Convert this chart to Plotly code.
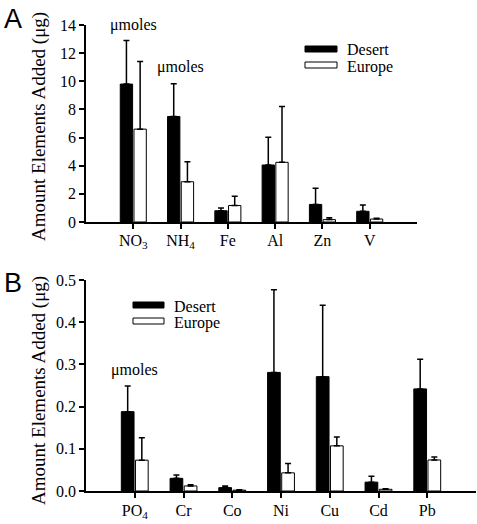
import plotly.graph_objects as go

# Panel A data
cats_a = ["NO<sub>3</sub>", "NH<sub>4</sub>", "Fe", "Al", "Zn", "V"]
desert_a = [9.8, 7.5, 0.8, 4.05, 1.25, 0.76]
desert_a_err = [3.1, 2.33, 0.2, 1.97, 1.15, 0.45]
europe_a = [6.6, 2.86, 1.17, 4.24, 0.17, 0.21]
europe_a_err = [4.8, 1.43, 0.66, 3.97, 0.14, 0.05]

# Panel B data
cats_b = ["PO<sub>4</sub>", "Cr", "Co", "Ni", "Cu", "Cd", "Pb"]
desert_b = [0.188, 0.030, 0.008, 0.281, 0.271, 0.021, 0.242]
desert_b_err = [0.061, 0.008, 0.004, 0.196, 0.169, 0.014, 0.070]
europe_b = [0.073, 0.012, 0.002, 0.043, 0.107, 0.004, 0.0735]
europe_b_err = [0.053, 0.003, 0.001, 0.022, 0.021, 0.0015, 0.007]

yticks_a = [0, 2, 4, 6, 8, 10, 12, 14]
yticks_b = [0.0, 0.1, 0.2, 0.3, 0.4, 0.5]

SERIF = "Liberation Serif, Times New Roman, serif"
SANS = "Liberation Sans, Arial, sans-serif"

W, H = 477, 524
ML, MR, MT = 86, 1, 25
PLOT_BOTTOM = 491
MB = H - PLOT_BOTTOM
PW = W - ML - MR
PH = H - MT - MB


def px_x(p):
    return (p - ML) / PW


def px_y(p):
    return (H - MB - p) / PH


fig = go.Figure()


def add_panel(cats, d, de, e, ee, xa, ya):
    fig.add_trace(go.Bar(
        x=cats, y=d, name="Desert", xaxis=xa, yaxis=ya,
        marker=dict(color="black", line=dict(color="black", width=1)),
        error_y=dict(type="data", symmetric=False, array=de,
                     arrayminus=[0] * len(de), color="black",
                     thickness=1.5, width=3),
        showlegend=False,
    ))
    fig.add_trace(go.Bar(
        x=cats, y=e, name="Europe", xaxis=xa, yaxis=ya,
        marker=dict(color="white", line=dict(color="black", width=1)),
        error_y=dict(type="data", symmetric=False, array=ee,
                     arrayminus=[0] * len(ee), color="black",
                     thickness=1.5, width=3),
        showlegend=False,
    ))


add_panel(cats_a, desert_a, desert_a_err, europe_a, europe_a_err, "x", "y")
add_panel(cats_b, desert_b, desert_b_err, europe_b, europe_b_err, "x2", "y2")

axis_common = dict(showline=True, linecolor="black", linewidth=1.5,
                   ticks="outside", tickcolor="black", ticklen=5, tickwidth=1.5,
                   showgrid=False, zeroline=False, automargin=False,
                   tickfont=dict(family=SERIF, size=16, color="black"))

yA_top, yA_bot = 25, 222
yB_top, yB_bot = 280, 491

fig.update_layout(
    template="none",
    width=W, height=H,
    margin=dict(l=ML, r=MR, t=MT, b=MB, pad=0),
    paper_bgcolor="white", plot_bgcolor="white",
    barmode="group", bargap=0.42, bargroupgap=0.1,
    showlegend=False,
    xaxis=dict(domain=[0, px_x(417)], anchor="y", range=[-1, 6],
               type="category", ticklabelstandoff=-2, **axis_common),
    yaxis=dict(domain=[px_y(yA_bot), px_y(yA_top)], anchor="x",
               range=[0, 14], tickvals=yticks_a, **axis_common),
    xaxis2=dict(domain=[0, 1], anchor="y2", range=[-1, 7],
                type="category", ticklabelstandoff=-1, **axis_common),
    yaxis2=dict(domain=[px_y(yB_bot), px_y(yB_top)], anchor="x2",
                range=[0, 0.5], tickvals=yticks_b, tickformat=".1f",
                **axis_common),
    font=dict(family=SERIF, color="black"),
)

ann = []
# y titles
for cy in [127, 391]:
    ann.append(dict(text="Amount Elements Added (μg)", xref="paper", yref="paper",
                    x=px_x(39), y=px_y(cy), textangle=-90,
                    showarrow=False, xanchor="center", yanchor="middle",
                    font=dict(family=SERIF, size=19, color="black")))
# panel letters
ann.append(dict(text="A", xref="paper", yref="paper", x=px_x(2), y=px_y(2),
                xanchor="left", yanchor="top", showarrow=False,
                font=dict(family=SANS, size=27, color="black")))
ann.append(dict(text="B", xref="paper", yref="paper", x=px_x(2), y=px_y(266),
                xanchor="left", yanchor="top", showarrow=False,
                font=dict(family=SANS, size=27, color="black")))
# umoles labels
ann.append(dict(text="μmoles", xref="x", yref="y", x=cats_a[0], y=14.0,
                showarrow=False, font=dict(family=SERIF, size=16, color="black")))
ann.append(dict(text="μmoles", xref="x", yref="y", x=cats_a[1], y=11.0,
                showarrow=False, font=dict(family=SERIF, size=16, color="black")))
ann.append(dict(text="μmoles", xref="x2", yref="y2", x=cats_b[0], y=0.287,
                showarrow=False, font=dict(family=SERIF, size=16, color="black")))

shapes = []
legends = [
    (305, 337, 46, 52, 345),
    (133, 164, 302, 308, 172),
]
dy_e = 16
for x0, x1, y0, y1, tx in legends:
    shapes.append(dict(type="rect", xref="paper", yref="paper",
                       x0=px_x(x0), x1=px_x(x1), y0=px_y(y1), y1=px_y(y0),
                       fillcolor="black", line=dict(color="black", width=1)))
    shapes.append(dict(type="rect", xref="paper", yref="paper",
                       x0=px_x(x0), x1=px_x(x1), y0=px_y(y1 + dy_e), y1=px_y(y0 + dy_e),
                       fillcolor="white", line=dict(color="black", width=1)))
    ann.append(dict(text="Desert", xref="paper", yref="paper", x=px_x(tx),
                    y=px_y((y0 + y1) / 2 + 1), xanchor="left", yanchor="middle",
                    showarrow=False, font=dict(family=SERIF, size=16, color="black")))
    ann.append(dict(text="Europe", xref="paper", yref="paper", x=px_x(tx),
                    y=px_y((y0 + y1) / 2 + dy_e + 2), xanchor="left", yanchor="middle",
                    showarrow=False, font=dict(family=SERIF, size=16, color="black")))

fig.update_layout(annotations=ann, shapes=shapes)
# remove the page's default 8px body margin so the figure sits at (0, 0)
fig.write_html("out.html",
               config={"displayModeBar": False},
               post_script="document.body.style.margin='0';document.body.style.overflow='hidden';")
